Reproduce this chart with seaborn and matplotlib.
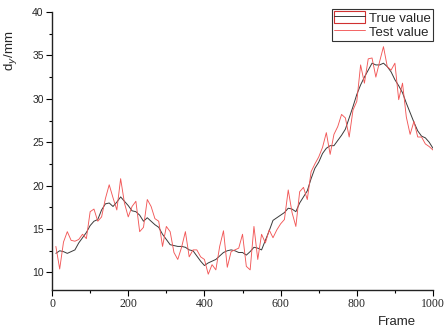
import matplotlib
import numpy as np
import pandas as pd
import seaborn as sns

matplotlib.use("Agg")
import matplotlib.pyplot as plt
from matplotlib.legend_handler import HandlerTuple
from matplotlib.lines import Line2D
from matplotlib.patches import Patch
from matplotlib.ticker import MultipleLocator


frames = list(range(10, 1001, 10))

true_value = [
    12.2, 12.5, 12.4, 12.2, 12.4, 12.6, 13.4, 14.0, 14.6, 15.4,
    15.9, 16.1, 17.2, 17.9, 18.0, 17.6, 18.1, 18.7, 18.2, 17.7,
    17.1, 17.0, 16.6, 15.9, 16.3, 15.9, 15.5, 15.2, 14.4, 13.8,
    13.2, 13.1, 13.0, 13.0, 12.9, 12.6, 12.5, 11.9, 11.3, 10.8,
    11.1, 11.3, 11.5, 11.9, 12.3, 12.5, 12.6, 12.5, 12.3, 12.3,
    12.0, 12.4, 12.9, 12.8, 12.6, 13.7, 14.8, 16.0, 16.3, 16.6,
    16.9, 17.4, 17.3, 17.0, 18.0, 18.7, 19.4, 20.8, 22.0, 22.7,
    23.7, 24.3, 24.6, 24.6, 25.2, 25.8, 26.5, 27.8, 29.1, 30.5,
    31.6, 32.5, 33.3, 34.1, 33.9, 33.9, 34.1, 33.7, 33.1, 32.2,
    31.5, 30.7, 29.5, 28.4, 27.3, 26.3, 25.7, 25.5, 25.0, 24.3,
]

test_value = [
    13.0, 10.4, 13.5, 14.7, 13.7, 13.6, 13.8, 14.4, 13.9, 17.0,
    17.3, 15.9, 16.4, 18.5, 20.1, 18.6, 17.2, 20.8, 18.0, 16.4,
    17.6, 18.2, 14.7, 15.2, 18.4, 17.6, 16.2, 15.9, 13.0, 15.3,
    14.7, 12.3, 11.5, 12.9, 14.7, 11.8, 12.6, 12.6, 11.8, 11.5,
    9.8, 10.9, 10.3, 13.0, 14.8, 10.6, 12.4, 12.6, 12.8, 14.4,
    10.7, 10.3, 15.3, 11.5, 14.4, 13.4, 14.9, 14.0, 14.9, 15.6,
    16.1, 19.5, 16.9, 15.3, 19.3, 19.8, 18.4, 21.6, 22.5, 23.3,
    24.4, 26.1, 23.6, 25.9, 26.8, 28.2, 27.8, 25.6, 28.7, 29.7,
    33.9, 31.8, 34.6, 34.7, 32.5, 34.3, 36.0, 33.7, 33.3, 34.1,
    29.9, 31.8, 27.9, 25.9, 27.4, 25.6, 25.6, 24.8, 24.5, 24.1,
]

x_ticks = [0, 200, 400, 600, 800, 1000]
y_ticks = [10, 15, 20, 25, 30, 35, 40]


def main() -> None:
    sns.set_theme(style="ticks")
    plt.rcParams["font.family"] = ["Liberation Sans", "DejaVu Sans"]

    df = pd.DataFrame({"frame": frames, "true": true_value, "test": test_value})

    fig = plt.figure(figsize=(4.45, 3.32), dpi=100)
    ax = fig.add_axes([0.117, 0.127, 0.856, 0.837])

    sns.lineplot(data=df, x="frame", y="true", color="#3a3a3a", linewidth=0.7, ax=ax)
    sns.lineplot(data=df, x="frame", y="test", color="#f25858", linewidth=0.65, ax=ax)

    ax.set_xlim(0, 1000)
    ax.set_ylim(8, 40)
    ax.set_xticks(x_ticks)
    ax.set_yticks(y_ticks)
    ax.xaxis.set_minor_locator(MultipleLocator(100))
    ax.yaxis.set_minor_locator(MultipleLocator(2.5))
    ax.tick_params(which="major", direction="out", length=4, width=0.8, color="black")
    ax.tick_params(which="minor", direction="out", length=2.5, width=0.8, color="black")
    ax.tick_params(axis="y", labelsize=7.5, pad=2)
    for label in ax.get_xticklabels():
        label.set_family(["Liberation Serif", "DejaVu Serif"])
        label.set_fontsize(8.5)
    ax.tick_params(axis="x", pad=2)

    for side in ["top", "right"]:
        ax.spines[side].set_visible(False)
    for side in ["left", "bottom"]:
        ax.spines[side].set_color("#222222")
        ax.spines[side].set_linewidth(1.0)

    ax.set_xlabel("Frame", fontsize=9.5)
    ax.set_ylabel("d$_y$/mm", fontsize=9.5)
    ax.xaxis.set_label_coords(0.905, -0.095)
    ax.yaxis.set_label_coords(-0.088, 0.86)

    true_line = Line2D([], [], color="#3a3a3a", linewidth=0.7)
    test_line = Line2D([], [], color="#f25858", linewidth=0.65)
    box = Patch(facecolor="none", edgecolor="#d03030", linewidth=0.8)
    leg = ax.legend(
        handles=[(box, true_line), test_line],
        labels=["True value", "Test value"],
        handler_map={tuple: HandlerTuple(ndivide=1, pad=0)},
        loc="upper right",
        bbox_to_anchor=(1.0, 1.01),
        fontsize=9.5,
        frameon=True,
        fancybox=False,
        handlelength=2.4,
        handleheight=1.0,
        handletextpad=0.3,
        borderpad=0.15,
        labelspacing=0.05,
        borderaxespad=0.0,
    )
    leg.get_frame().set_edgecolor("black")
    leg.get_frame().set_linewidth(0.8)

    fig.savefig("out.png", dpi=100)
    plt.close(fig)


if __name__ == "__main__":
    main()
